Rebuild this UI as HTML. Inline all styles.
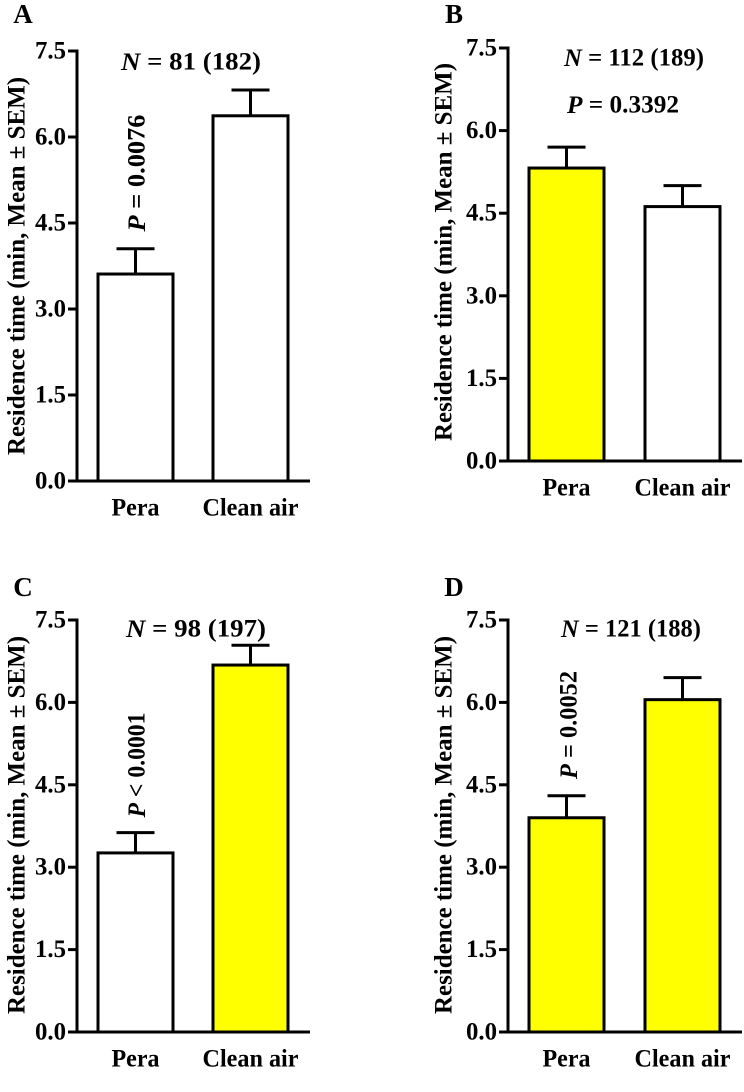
<!DOCTYPE html>
<html><head><meta charset="utf-8">
<style>
html,body{margin:0;padding:0;background:#fff;}
svg{display:block;}
svg text{font-family:"Liberation Serif","Times New Roman",serif;font-weight:bold;fill:#000;}
</style></head>
<body>
<svg id="chart" width="744" height="1092" viewBox="0 0 744 1092" xmlns="http://www.w3.org/2000/svg" font-family="Liberation Serif, serif" font-weight="bold"></svg>
<script>
// ---- data ----
const categories = ["Pera", "Clean air"];
const ticks = [0, 1.5, 3.0, 4.5, 6.0, 7.5];
const tickLabels = ["0.0", "1.5", "3.0", "4.5", "6.0", "7.5"];
const panelIds = ["A", "B", "C", "D"];
const meansA = [3.61, 6.37];
const semA = [0.44, 0.45];
const meansB = [5.32, 4.62];
const semB = [0.38, 0.38];
const meansC = [3.26, 6.68];
const semC = [0.37, 0.36];
const meansD = [3.90, 6.05];
const semD = [0.40, 0.40];
const yellowA = [false, false];
const yellowB = [true, false];
const yellowC = [false, true];
const yellowD = [true, true];
const nLabels = ["81 (182)", "112 (189)", "98 (197)", "121 (188)"];
const pLabels = ["= 0.0076", "= 0.3392", "< 0.0001", "= 0.0052"];

// ---- layout ----
const NS = "http://www.w3.org/2000/svg";
const svg = document.getElementById("chart");
function mk(tag, attrs, parent) {
  const e = document.createElementNS(NS, tag);
  for (const k in attrs) e.setAttribute(k, attrs[k]);
  if (tag === "text") { e.setAttribute("font-family", "Liberation Serif, serif"); e.setAttribute("font-weight", "bold"); }
  (parent || svg).appendChild(e);
  return e;
}
function addSpans(t, italic, rest) {
  const a = document.createElementNS(NS, "tspan");
  a.setAttribute("font-style", "italic");
  a.textContent = italic;
  t.appendChild(a);
  t.appendChild(document.createTextNode(rest));
}
const layouts = [
  {ax: 77, y0: 481, y1: 51, xEnd: 310, bars: [98, 213], lab: [23, 14], n: [191, 62], p: {rot: true, x: 137, y: 173, len: 117}, title: [17, 266]},
  {ax: 508, y0: 461, y1: 48, xEnd: 742, bars: [529, 645], lab: [454, 14], n: [634, 58], p: {rot: false, x: 623, y: 105, len: 112}, title: [444, 252]},
  {ax: 77, y0: 1032, y1: 620, xEnd: 310, bars: [98, 213], lab: [23, 587], n: [196, 629], p: {rot: true, x: 137, y: 765, len: 105}, title: [17, 825]},
  {ax: 508, y0: 1032, y1: 620, xEnd: 742, bars: [529, 645], lab: [454, 587], n: [631, 629], p: {rot: true, x: 569, y: 725, len: 108}, title: [444, 825]}
];
const allMeans = [meansA, meansB, meansC, meansD];
const allSem = [semA, semB, semC, semD];
const allYellow = [yellowA, yellowB, yellowC, yellowD];
const BW = 75, CAP = 38;

layouts.forEach((L, pi) => {
  const g = mk("g", {});
  
  
  const yScale = v => L.y0 - (v / 7.5) * (L.y0 - L.y1);

  const pl = mk("text", {x: L.lab[0], y: L.lab[1], "font-size": 27, "text-anchor": "middle", "dominant-baseline": "central"}, g);
  pl.textContent = panelIds[pi];
  
  

  allMeans[pi].forEach((m, i) => {
    const x = L.bars[i], cx = x + BW / 2;
    const top = yScale(m), et = yScale(m + allSem[pi][i]);
    const eb = mk("line", {x1: cx, x2: cx, y1: top, y2: et, stroke: "#000", "stroke-width": 3}, g);
    
    
    const cap = mk("line", {x1: cx - CAP / 2, x2: cx + CAP / 2, y1: et, y2: et, stroke: "#000", "stroke-width": 3}, g);
    
    
    const r = mk("rect", {x: x, y: top, width: BW, height: L.y0 - top, fill: allYellow[pi][i] ? "#ffff00" : "#fff", stroke: "#000", "stroke-width": 3}, g);
    
    
    const t = mk("text", {x: cx, y: L.y0 + 27, "font-size": 25, "text-anchor": "middle", "dominant-baseline": "central", textLength: i === 0 ? 48 : 96, lengthAdjust: "spacingAndGlyphs"}, g);
    t.textContent = categories[i];
    
    
  });

  const ya = mk("line", {x1: L.ax, x2: L.ax, y1: L.y1 - 1.5, y2: L.y0 + 1.5, stroke: "#000", "stroke-width": 3}, g);
  
  
  const xa = mk("line", {x1: L.ax - 9, x2: L.xEnd, y1: L.y0, y2: L.y0, stroke: "#000", "stroke-width": 3}, g);
  
  
  ticks.forEach((v, i) => {
    const y = yScale(v);
    const tk = mk("line", {x1: L.ax - 9, x2: L.ax, y1: y, y2: y, stroke: "#000", "stroke-width": 3}, g);
    
    
    const tl = mk("text", {x: L.ax - 11, y: y, "font-size": 25, "text-anchor": "end", "dominant-baseline": "central", textLength: 31, lengthAdjust: "spacingAndGlyphs"}, g);
    tl.textContent = tickLabels[i];
    
    
  });
  const tt = mk("text", {x: 0, y: 0, "font-size": 25, "text-anchor": "middle", "dominant-baseline": "central", transform: `translate(${L.title[0]},${L.title[1]}) rotate(-90)`, textLength: 378, lengthAdjust: "spacingAndGlyphs"}, g);
  tt.textContent = "Residence time (min, Mean \u00B1 SEM)";
  
  

  const nt = mk("text", {x: L.n[0], y: L.n[1], "font-size": 25, "text-anchor": "middle", "dominant-baseline": "central", textLength: 140, lengthAdjust: "spacingAndGlyphs"}, g);
  addSpans(nt, "N", " = " + nLabels[pi]);
  
  
  const pAttrs = {x: 0, y: 0, "font-size": 25, "text-anchor": "middle", "dominant-baseline": "central", textLength: L.p.len, lengthAdjust: "spacingAndGlyphs",
    transform: L.p.rot ? `translate(${L.p.x},${L.p.y}) rotate(-90)` : `translate(${L.p.x},${L.p.y})`};
  const pt = mk("text", pAttrs, g);
  addSpans(pt, "P", " " + pLabels[pi]);
  
  
});
</script>
</body></html>
